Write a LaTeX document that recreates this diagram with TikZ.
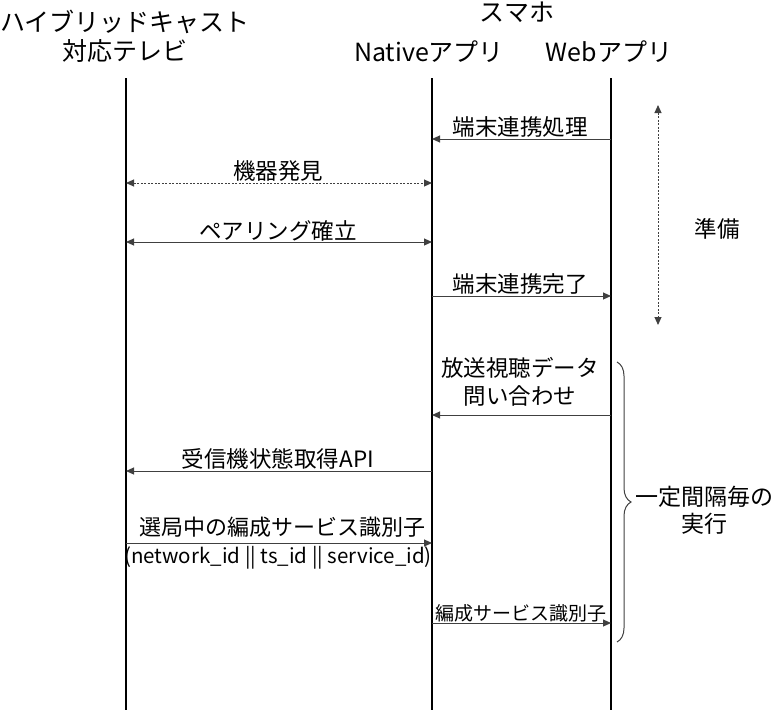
\documentclass[tikz,border=0pt]{standalone}
\usepackage{fontspec}
\setmainfont{Noto Sans CJK JP}
\usetikzlibrary{arrows.meta}
\usetikzlibrary{decorations.pathreplacing}

\begin{document}
\begin{tikzpicture}[x=1pt, y=-1pt, >={Triangle[length=8pt,width=7pt]},
  head/.style={align=center, font=\fontsize{25}{29}\selectfont},
  lbl/.style={anchor=south, inner sep=1pt, align=center, font=\fontsize{22.5}{28}\selectfont},
  msg/.style={black!75, line width=1pt},
  life/.style={black, line width=1.2pt}]
\useasboundingbox (0,0) rectangle (783,720);
% heads
\node[head] (tvh) at (125,36) {ハイブリッドキャスト\\対応テレビ};
\node[head] (phone) at (517,12) {スマホ};
\node[head] (nath) at (429,52) {Nativeアプリ};
\node[head] (webh) at (609,52) {Webアプリ};
% lifelines
\foreach \n/\x in {tv/126, nat/432, web/611} {
 \coordinate (\n) at (\x,78);
 \draw[life] (\n) --++(0,632);
}
% messages
\node[lbl] (m1) at (520,139) {端末連携処理};
\draw[msg, ->] (web |- m1.south) -- (nat |- m1.south);
\node[lbl] (m2) at (278,183) {機器発見};
\draw[msg, <->, dash pattern=on 2pt off 1.5pt] (tv |- m2.south) -- (nat |- m2.south);
\node[lbl] (m3) at (278,242) {ペアリング確立};
\draw[msg, <->] (tv |- m3.south) -- (nat |- m3.south);
\node[lbl] (m4) at (520,296) {端末連携完了};
\draw[msg, ->] (nat |- m4.south) -- (web |- m4.south);
\node[lbl] (m5) at (520,408) {放送視聴データ\\問い合わせ};
\draw[msg, ->] (web |- 0,415) -- (nat |- 0,415);
\node[lbl] (m6) at (278,471) {受信機状態取得API};
\draw[msg, ->] (nat |- m6.south) -- (tv |- m6.south);
\node[lbl, font=\fontsize{22}{27}\selectfont] (m7) at (282,539) {選局中の編成サービス識別子};
\draw[msg, ->] (tv |- 0,543) -- (nat |- 0,543);
\node[anchor=north, inner sep=1pt, font=\fontsize{20.5}{24}\selectfont] (m7b) at (278,545) {(network\_id || ts\_id || service\_id)};
\node[lbl, font=\fontsize{19}{23}\selectfont] (m8) at (521,623) {編成サービス識別子};
\draw[msg, ->] (nat |- m8.south) -- (web |- m8.south);
% phases
\coordinate (pa) at (658,105);
\coordinate (pb) at (658,325);
\draw[msg, <->, dash pattern=on 2pt off 1.5pt] (pa) -- (pb);
\node[lbl, anchor=center] (prep) at (717,229) {準備};
\coordinate (ba) at (617,362);
\coordinate (bb) at (617,642);
\draw[msg, decorate, decoration={brace, amplitude=14pt}] (ba) -- (bb);
\node[lbl, anchor=center, font=\fontsize{23}{27}\selectfont] (loop) at (704,510) {一定間隔毎の\\実行};
\end{tikzpicture}
\end{document}
